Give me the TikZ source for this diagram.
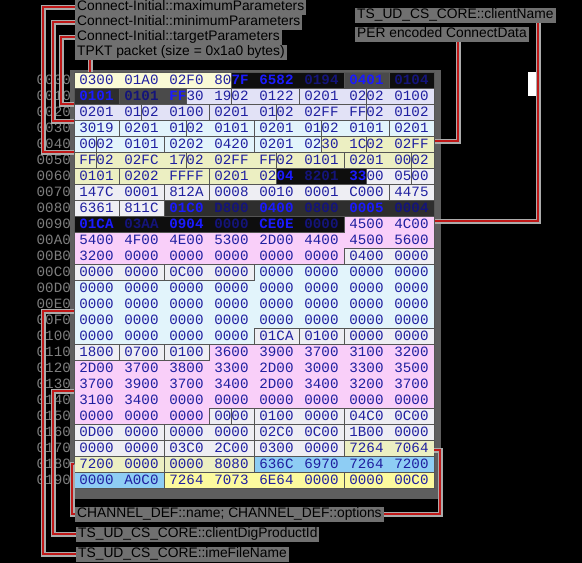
\documentclass[tikz,border=0pt]{standalone}
\usepackage{fontspec}
\setmainfont{Liberation Sans}
\newfontfamily\hexfont{Liberation Mono}
\usetikzlibrary{calc}
\definecolor{cCream}{HTML}{FAFAD6}
\definecolor{cLav}{HTML}{E2E2F6}
\definecolor{cCyan}{HTML}{E2F4FB}
\definecolor{cGreen}{HTML}{ECEFC2}
\definecolor{cWhite}{HTML}{EEEEF3}
\definecolor{cPink}{HTML}{F9CFF9}
\definecolor{cBlue}{HTML}{8ECDF4}
\definecolor{cYellow}{HTML}{FCFA9E}
\definecolor{dkA}{HTML}{0E0E0E}
\definecolor{dkB}{HTML}{2E2E2E}
\definecolor{dkC}{HTML}{4A4A4A}
\definecolor{hexblue}{HTML}{1F1FA0}
\definecolor{hexbright}{HTML}{1A1AFF}
\definecolor{hexdim}{HTML}{14147A}
\definecolor{fieldline}{HTML}{555555}
\definecolor{framegray}{HTML}{5E5E5E}
\definecolor{labgray}{HTML}{707070}
\definecolor{offgray}{HTML}{7E7E7E}
\definecolor{connred}{HTML}{C01818}
\definecolor{conngray}{HTML}{ABABAB}
\newcommand\hxB[1]{{\bfseries\color{hexbright}#1}}
\newcommand\hxD[1]{{\bfseries\color{hexdim}#1}}
\newcommand\hxSeg[4]{\path[fill=#4,draw=fieldline,line width=0.8]
  ({74+22.5*#2},{72+16*#1}) rectangle ({74+22.5*#3},{88+16*#1});}
\newcommand\hxMulti[5]{\path[fill=#5,draw=fieldline,line width=0.8]
  ({74+22.5*#2},{72+16*#1}) -- (434,{72+16*#1}) -- (434,{72+16*#3})
  -- ({74+22.5*#4},{72+16*#3}) -- ({74+22.5*#4},{88+16*#3}) -- (74,{88+16*#3})
  -- (74,{88+16*#1}) -- ({74+22.5*#2},{88+16*#1}) -- cycle;}
\begin{document}
\begin{tikzpicture}[x=1pt,y=-1pt,
  hex/.style={font=\hexfont\fontsize{14.2}{16}\selectfont, text=hexblue, inner sep=0},
  offs/.style={font=\hexfont\fontsize{14.2}{16}\selectfont, text=offgray, inner sep=0, anchor=east},
  lab/.style={fill=labgray, text=black, font=\fontsize{13.8}{15}\selectfont,
    inner xsep=2, inner ysep=1, text height=10, text depth=3, anchor=west},
  conn/.style={draw=connred, line width=1.1,
    preaction={draw=conngray, line width=5},
    preaction={draw=white, line width=2.8}}]
\useasboundingbox (0,0) rectangle (582,563);
\fill[black] (0,0) rectangle (582,563);
% frame round the dump
\fill[framegray] (70,70) rectangle (441,499);
\fill[white] (528,72) rectangle (537,96);
% ---- fields ----
\hxSeg{0}{0}{7}{cCream}
\hxSeg{0}{7}{12}{dkA}\hxSeg{0}{12}{14}{dkC}\hxSeg{0}{14}{16}{dkA}
\hxSeg{1}{0}{2}{dkB}\hxSeg{1}{2}{5}{dkC}
\hxSeg{1}{5}{7}{cLav}\hxSeg{1}{7}{10}{cLav}\hxSeg{1}{10}{13}{cLav}\hxSeg{1}{13}{16}{cLav}
\hxSeg{2}{0}{3}{cLav}\hxSeg{2}{3}{6}{cLav}\hxSeg{2}{6}{9}{cLav}\hxSeg{2}{9}{13}{cLav}\hxSeg{2}{13}{16}{cLav}
\hxSeg{3}{0}{2}{cCyan}\hxSeg{3}{2}{5}{cCyan}\hxSeg{3}{5}{8}{cCyan}\hxSeg{3}{8}{11}{cCyan}\hxSeg{3}{11}{14}{cCyan}
\hxMulti{3}{14}{4}{1}{cCyan}
\hxSeg{4}{1}{4}{cCyan}\hxSeg{4}{4}{8}{cCyan}\hxSeg{4}{8}{11}{cCyan}
\hxSeg{4}{11}{13}{cGreen}
\hxMulti{4}{13}{5}{1}{cGreen}
\hxSeg{5}{1}{5}{cGreen}\hxSeg{5}{5}{9}{cGreen}\hxSeg{5}{9}{12}{cGreen}\hxSeg{5}{12}{15}{cGreen}
\hxMulti{5}{15}{6}{2}{cGreen}
\hxSeg{6}{2}{6}{cGreen}\hxSeg{6}{6}{9}{cGreen}
\hxSeg{6}{9}{13}{dkA}
\hxSeg{6}{13}{15}{cWhite}
\hxMulti{6}{15}{7}{4}{cWhite}
\hxSeg{7}{4}{6}{cWhite}\hxSeg{7}{6}{14}{cWhite}
\hxMulti{7}{14}{8}{2}{cWhite}
\hxSeg{8}{2}{4}{cWhite}
\hxSeg{8}{4}{16}{dkB}
\hxSeg{9}{0}{12}{dkA}
\hxMulti{9}{12}{11}{12}{cPink}
\hxSeg{11}{12}{16}{cWhite}
\hxSeg{12}{0}{4}{cWhite}\hxSeg{12}{4}{8}{cWhite}
\hxMulti{12}{8}{16}{8}{cCyan}
\hxSeg{16}{8}{10}{cWhite}\hxSeg{16}{10}{12}{cWhite}\hxSeg{16}{12}{16}{cWhite}
\hxSeg{17}{0}{2}{cWhite}\hxSeg{17}{2}{4}{cWhite}\hxSeg{17}{4}{6}{cWhite}
\hxMulti{17}{6}{21}{6}{cPink}
\hxSeg{21}{6}{7}{cWhite}\hxSeg{21}{7}{8}{cWhite}\hxSeg{21}{8}{12}{cWhite}\hxSeg{21}{12}{16}{cWhite}
\hxSeg{22}{0}{4}{cWhite}\hxSeg{22}{4}{8}{cWhite}\hxSeg{22}{8}{12}{cWhite}\hxSeg{22}{12}{16}{cWhite}
\hxSeg{23}{0}{4}{cWhite}\hxSeg{23}{4}{8}{cWhite}\hxSeg{23}{8}{12}{cWhite}
\hxMulti{23}{12}{24}{4}{cGreen}
\hxSeg{24}{4}{8}{cGreen}
\hxSeg{24}{8}{16}{cBlue}
\hxSeg{25}{0}{4}{cBlue}
\hxSeg{25}{4}{12}{cYellow}\hxSeg{25}{12}{16}{cYellow}
% ---- hex text ----
\foreach \rowtxt [count=\r from 0] in {
 {0300,01A0,02F0,80\hxB{7F},\hxB{6582},\hxD{0194},\hxB{0401},\hxD{0104}},
 {\hxB{0101},\hxD{0101},\hxB{FF}30,1902,0122,0201,0202,0100},
 {0201,0102,0100,0201,0102,02FF,FF02,0102},
 {3019,0201,0102,0101,0201,0102,0101,0201},
 {0002,0101,0202,0420,0201,0230,1C02,02FF},
 {FF02,02FC,1702,02FF,FF02,0101,0201,0002},
 {0101,0202,FFFF,0201,02\hxB{04},\hxD{8201},\hxB{33}00,0500},
 {147C,0001,812A,0008,0010,0001,C000,4475},
 {6361,811C,\hxB{01C0},\hxD{D800},\hxB{0400},\hxD{0800},\hxB{0005},\hxD{0004}},
 {\hxB{01CA},\hxD{03AA},\hxB{0904},\hxD{0000},\hxB{CE0E},\hxD{0000},4500,4C00},
 {5400,4F00,4E00,5300,2D00,4400,4500,5600},
 {3200,0000,0000,0000,0000,0000,0400,0000},
 {0000,0000,0C00,0000,0000,0000,0000,0000},
 {0000,0000,0000,0000,0000,0000,0000,0000},
 {0000,0000,0000,0000,0000,0000,0000,0000},
 {0000,0000,0000,0000,0000,0000,0000,0000},
 {0000,0000,0000,0000,01CA,0100,0000,0000},
 {1800,0700,0100,3600,3900,3700,3100,3200},
 {2D00,3700,3800,3300,2D00,3000,3300,3500},
 {3700,3900,3700,3400,2D00,3400,3200,3700},
 {3100,3400,0000,0000,0000,0000,0000,0000},
 {0000,0000,0000,0000,0100,0000,04C0,0C00},
 {0D00,0000,0000,0000,02C0,0C00,1B00,0000},
 {0000,0000,03C0,2C00,0300,0000,7264,7064},
 {7200,0000,0000,8080,636C,6970,7264,7200},
 {0000,A0C0,7264,7073,6E64,0000,0000,00C0}}{
  \foreach \g [count=\c from 0] in \rowtxt {
    \node[hex] (t\r-\c) at ({96.5+45*\c},{80+16*\r}) {\g};
  }
}
% ---- offsets ----
\foreach \o [count=\r from 0] in {0000,0010,0020,0030,0040,0050,0060,0070,0080,0090,
  00A0,00B0,00C0,00D0,00E0,00F0,0100,0110,0120,0130,0140,0150,0160,0170,0180,0190}{
  \node[offs] (o\r) at (71,{80+16*\r}) {\o};
}
% ---- labels ----
\node[lab] (lmax) at (75,7)  {Connect-Initial::maximumParameters};
\node[lab] (lmin) at (75,22) {Connect-Initial::minimumParameters};
\node[lab] (ltgt) at (75,37) {Connect-Initial::targetParameters};
\node[lab] (ltp)  at (75,52) {TPKT packet (size = 0x1a0 bytes)};
\node[lab] (lcn)  at (355,15) {TS\_UD\_CS\_CORE::clientName};
\node[lab] (lper) at (355,34) {PER encoded ConnectData};
\node[lab] (lch)  at (75,514) {CHANNEL\_DEF::name; CHANNEL\_DEF::options};
\node[lab] (ldp)  at (76,534) {TS\_UD\_CS\_CORE::clientDigProductId};
\node[lab] (lime) at (76,554) {TS\_UD\_CS\_CORE::imeFileName};
% ---- connector ends ----
\coordinate (gtg) at (74,104);  \coordinate (tgc) at (61,104);
\coordinate (gmn) at (74,121);  \coordinate (mnc) at (53,121);
\coordinate (gmx) at (74,152);  \coordinate (mxc) at (43,152);
\coordinate (gtp) at (90,72);
\coordinate (gper) at (435,141); \coordinate (perc) at (458,141);
\coordinate (gcn) at (435,221);  \coordinate (cnc) at (538,221);
\coordinate (gime) at (74,311);  \coordinate (imec) at (43,311);
\coordinate (gdp) at (74,391);   \coordinate (dpc) at (53,391);
\coordinate (gchl) at (74,464);  \coordinate (chlc) at (72,464);
\coordinate (gchr) at (434,450); \coordinate (chrc) at (440,450);
% ---- connectors ----
\draw[conn] (lmax.west) -| (mxc) -- (gmx);
\draw[conn] (lmin.west) -| (mnc) -- (gmn);
\draw[conn] (ltgt.west) -| (tgc) -- (gtg);
\draw[conn] (ltp.south -| gtp) -- (gtp);
\draw[conn] (lcn.south -| cnc) -- (cnc) -- (gcn);
\draw[conn] (lper.south -| perc) -- (perc) -- (gper);
\draw[conn] (gime) -- (imec) |- (lime.west);
\draw[conn] (gdp) -- (dpc) |- (ldp.west);
\draw[conn] (gchl) -- (chlc) |- (lch.west);
\draw[conn] (lch.east) -| (chrc) -- (gchr);
\end{tikzpicture}
\end{document}
